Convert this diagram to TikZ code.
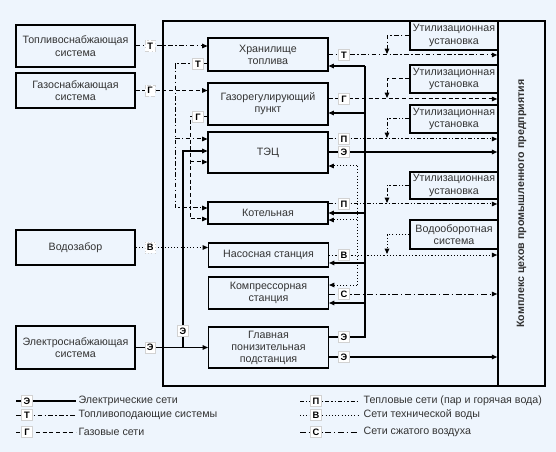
\documentclass[tikz,border=0pt]{standalone}
\usepackage{fontspec}
\setmainfont{Liberation Sans}
\usepackage{tikz}
\usetikzlibrary{arrows.meta, calc}
\definecolor{bgblue}{RGB}{238,245,253}

\tikzset{
  sysbox/.style={draw, line width=1.2pt, align=center, inner sep=0pt, minimum width=89.25pt,
    font=\fontsize{8}{9.5}\selectfont, text=black!80},
  unitbox/.style={draw, line width=0.8pt, align=center, inner sep=0pt, minimum width=90pt,
    font=\fontsize{8}{9}\selectfont, text=black!80},
  utilbox/.style={draw, line width=0.8pt, align=center, inner sep=0pt, minimum width=66pt,
    font=\fontsize{8}{9.5}\selectfont, text=black!80},
  lbl/.style={fill=white, draw=gray!35, line width=0.3pt, inner sep=0pt, minimum width=8pt,
    minimum height=8.5pt, font=\fontsize{7}{8}\selectfont\bfseries},
  legtxt/.style={anchor=west, inner sep=1pt, font=\fontsize{8}{9.5}\selectfont, text=black!80},
  arr/.style={-{Triangle[length=4pt,width=3.4pt]}},
  elec/.style={line width=0.8pt},
  fuel/.style={line width=0.75pt, dash pattern=on 3.5pt off 1.8pt on 1pt off 1.8pt},
  gas/.style={line width=0.75pt, dash pattern=on 3pt off 2pt},
  heat/.style={line width=0.75pt, dash pattern=on 3pt off 1.5pt on 1pt off 1.5pt on 1pt off 1.5pt},
  water/.style={line width=0.75pt, dash pattern=on 0.8pt off 1.6pt},
  air/.style={line width=0.75pt, dash pattern=on 4.5pt off 2pt on 1pt off 2pt},
}

\begin{document}
\begin{tikzpicture}[x=0.75pt, y=-0.75pt]
  \fill[bgblue] (0,0) rectangle (556,452);

  % outer systems
  \node[sysbox, minimum height=31.5pt] (supT) at (75.5,46) {Топливоснабжающая\\система};
  \node[sysbox, minimum height=26.25pt] (supG) at (75.5,90.5) {Газоснабжающая\\система};
  \node[sysbox, minimum height=26.25pt] (supV) at (75.5,247.5) {Водозабор};
  \node[sysbox, minimum height=32.25pt] (supE) at (75.5,347.5) {Электроснабжающая\\система};

  % plant frame
  \draw[line width=1.2pt] (163,21) rectangle (545,386);
  \node[draw, line width=1.2pt, inner sep=0pt, minimum width=35.25pt, minimum height=273.75pt,
    font=\fontsize{8}{9.5}\selectfont\bfseries, text=black!80] (cmplx) at (521.5,203.5)
    {\rotatebox{90}{Комплекс цехов промышленного предприятия}};

  % plant units
  \node[unitbox, minimum height=24.75pt] (stor) at (268,54.5) {Хранилище\\топлива};
  \node[unitbox, minimum height=31.5pt] (grp) at (268,104) {Газорегулирующий\\пункт};
  \node[unitbox, minimum height=30.75pt] (tec) at (268,152.5) {ТЭЦ};
  \node[unitbox, minimum height=16.5pt] (boil) at (268,213) {Котельная};
  \node[unitbox, minimum height=18pt] (pump) at (268.5,255) {Насосная станция};
  \node[unitbox, minimum height=24pt] (comp) at (268.5,293) {Компрессорная\\станция};
  \node[unitbox, minimum height=30.75pt] (gpp) at (268.5,347.5) {Главная\\понизительная\\подстанция};

  \node[utilbox, minimum height=21.75pt] (util1) at (454,35.5) {Утилизационная\\установка};
  \node[utilbox, minimum height=21pt] (util2) at (454,79) {Утилизационная\\установка};
  \node[utilbox, minimum height=21pt] (util3) at (454,119) {Утилизационная\\установка};
  \node[utilbox, minimum height=20.25pt] (util4) at (454,185.5) {Утилизационная\\установка};
  \node[utilbox, minimum height=21.75pt] (recyc) at (454,234.5) {Водооборотная\\система};

  % supply lines
  \draw[fuel,arr] (supT.east) -- (supT.east -| stor.west) node[lbl,pos=0.2] (lT) {Т};
  \draw[gas,arr] (supG.east) -- (supG.east -| grp.west) node[lbl,pos=0.2] (lG) {Г};
  \draw[water,arr] (supV.east) -- (supV.east -| pump.west) node[lbl,pos=0.2] (lV) {В};
  \draw[elec,arr] (supE.east) -- (supE.east -| gpp.west) node[lbl,pos=0.2] (lE) {Э};
  \draw[elec,arr] (supE.east -| 183,0) -- (183,151) -- (tec.west |- 0,151);
  \node[lbl] (lEup) at (183,331) {Э};

  % fuel and gas inside
  \draw[fuel,arr] (stor.west |- 0,64) -| (175,208) -- (boil.west |- 0,208);
  \draw[fuel,arr] (175,139) -- (tec.west |- 0,139);
  \draw[gas,arr] (grp.west |- 0,117) -| (190,219) -- (boil.west |- 0,219);
  \draw[gas,arr] (190,162) -- (tec.west |- 0,162);
  \node[lbl] (lTin) at (198,64) {Т};
  \node[lbl] (lGin) at (198,117) {Г};

  % outputs to the works
  \draw[fuel,arr] (stor.east |- 0,55) -- (cmplx.west |- 0,55);
  \draw[gas,arr] (grp.east |- 0,99) -- (cmplx.west |- 0,99);
  \draw[heat,arr] (tec.east |- 0,139) -- (cmplx.west |- 0,139);
  \draw[elec,arr] (tec.east |- 0,152) -- (cmplx.west |- 0,152);
  \draw[heat,arr] (boil.east |- 0,204) -- (cmplx.west |- 0,204);
  \draw[water,arr] (pump.east |- 0,255) -- (cmplx.west |- 0,255);
  \draw[air,arr] (comp.east |- 0,294) -- (cmplx.west |- 0,294);
  \draw[elec,arr] (gpp.east |- 0,357) -- (cmplx.west |- 0,357);

  % utilisation units
  \draw[fuel,arr] (util1.west) -| (387,54);
  \draw[gas,arr] (util2.west) -| (387,98);
  \draw[heat,arr] (util3.west) -| (387,138);
  \draw[heat,arr] (util4.west) -| (387,203);
  \draw[water,arr] (recyc.west) -| (387,254);

  % own supply of power and water
  \draw[elec] (gpp.east |- 0,337) -| (365,66);
  \foreach \n/\y in {stor/66, grp/113, boil/213, pump/263, comp/303}
    \draw[elec,arr] (365,\y) -- (\n.east |- 0,\y);
  \draw[water] (357,166) -- (357,285);
  \foreach \n/\y in {tec/166, boil/220, comp/285}
    \draw[water,arr] (357,\y) -- (\n.east |- 0,\y);

  \foreach \l/\y in {Т/55, Г/99, П/139, Э/152, П/204, В/255, С/294, Э/337, Э/357}
    \node[lbl] (r\y) at (344,\y) {\l};

  % legend
  \foreach \st/\l/\t/\y in {elec/Э/Электрические сети/401, fuel/Т/Топливоподающие системы/415,
      gas/Г/Газовые сети/432} {
    \draw[\st] (16,\y) -- (76,\y);
    \node[lbl] (legl\y) at (27,\y) {\l};
    \node[legtxt] (legt\y) at (77,\y) {\t};
  }
  \foreach \st/\l/\t/\y in {heat/П/Тепловые сети (пар и горячая вода)/401,
      water/В/Сети технической воды/415, air/С/Сети сжатого воздуха/432} {
    \draw[\st] (300,\y) -- (358,\y);
    \node[lbl] (legr\y) at (316,\y) {\l};
    \node[legtxt] (legu\y) at (362,\y) {\t};
  }
\end{tikzpicture}
\end{document}
